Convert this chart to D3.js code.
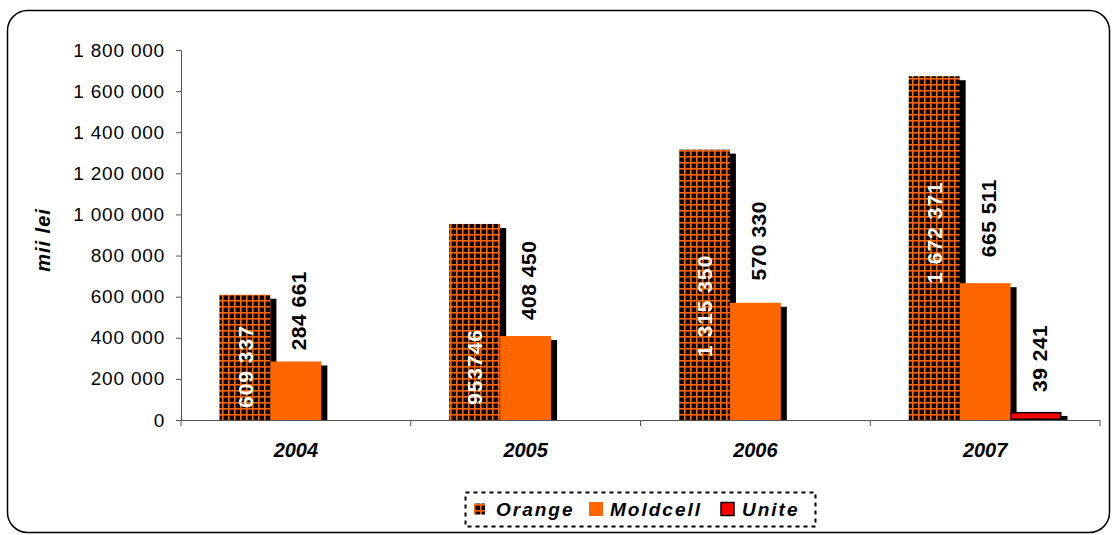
<!DOCTYPE html>
<html>
<head>
<meta charset="utf-8">
<script src="https://cdn.jsdelivr.net/npm/d3@7"></script>
<style>
  body { margin: 0; background: #fff; }
  text { font-family: "Liberation Sans", Arial, sans-serif; }
</style>
</head>
<body>
<div id="chart"></div>
<script>
// donnees
const years = ["2004", "2005", "2006", "2007"];
const orangeVals = [609337, 953746, 1315350, 1672371];
const moldcellVals = [284661, 408450, 570330, 665511];
const uniteVals = [null, null, null, 39241];
const orangeLabels = ["609 337", "953746", "1 315 350", "1 672 371"];
const moldcellLabels = ["284 661", "408 450", "570 330", "665 511"];
const uniteLabels = [null, null, null, "39 241"];
const seriesNames = ["Orange", "Moldcell", "Unite"];
const yTicks = [0, 200000, 400000, 600000, 800000, 1000000, 1200000, 1400000, 1600000, 1800000];

const width = 1112, height = 535;
const svg = d3.select("#chart").append("svg")
  .attr("width", width).attr("height", height);

// motif quadrille
const defs = svg.append("defs");
const pat = defs.append("pattern").attr("id", "grid")
  .attr("patternUnits", "userSpaceOnUse").attr("width", 6).attr("height", 6);
pat.append("rect").attr("width", 6).attr("height", 6).attr("fill", "#000");
pat.append("rect").attr("width", 6).attr("height", 1.6).attr("fill", "#ff6600");
pat.append("rect").attr("width", 1.6).attr("height", 6).attr("fill", "#ff6600");

// cadre
svg.append("rect")
  .attr("x", 7.5).attr("y", 10.5).attr("width", 1102).attr("height", 522)
  .attr("rx", 20).attr("fill", "#fff").attr("stroke", "#000").attr("stroke-width", 1.5);

const x0 = d3.scaleBand().domain(years).range([181, 1100]).paddingInner(0).paddingOuter(0);
const x1 = d3.scaleBand().domain(seriesNames).range([38.5, x0.bandwidth() - 38.5]);
const y = d3.scaleLinear().domain([0, 1800000]).range([420, 50]);

const fmt = v => d3.format(",")(v).replace(/,/g, " ");

// axe Y
const yAxis = svg.append("g").attr("transform", "translate(181,0)")
  .call(d3.axisLeft(y).tickValues(yTicks).tickFormat(fmt).tickSize(5).tickPadding(11));
yAxis.select(".domain").attr("stroke", "#555");
yAxis.selectAll(".tick line").attr("stroke", "#555");
yAxis.selectAll("text").attr("font-size", 19).attr("fill", "#000")
  .attr("letter-spacing", 0.8)
  .style("font-family", "'Liberation Sans', Arial, sans-serif");

svg.append("text")
  .attr("transform", "translate(50,240) rotate(-90)")
  .attr("text-anchor", "middle")
  .attr("font-size", 20).attr("font-weight", "bold").attr("font-style", "italic")
  .attr("letter-spacing", 1)
  .text("mii lei");

// barres
const series = [
  { name: "Orange", vals: orangeVals, fill: "url(#grid)", stroke: "none" },
  { name: "Moldcell", vals: moldcellVals, fill: "#ff6600", stroke: "none" },
  { name: "Unite", vals: uniteVals, fill: "#ff0000", stroke: "#000" }
];
const bw = x1.bandwidth();

series.forEach(s => {
  const g = svg.append("g");
  const d = years.map((yr, i) => ({ yr, v: s.vals[i] })).filter(e => e.v != null);
  const inset = s.stroke === "none" ? 0 : 0.75;
  g.selectAll(".shadow").data(d).join("rect")
    .attr("x", e => x0(e.yr) + x1(s.name) + 6)
    .attr("y", e => y(e.v) + 4)
    .attr("width", bw)
    .attr("height", e => Math.max(0, y(0) - y(e.v) - 4))
    .attr("fill", "#000");
  g.selectAll(".bar").data(d).join("rect")
    .attr("x", e => x0(e.yr) + x1(s.name) + inset)
    .attr("y", e => y(e.v) + inset)
    .attr("width", bw - 2 * inset)
    .attr("height", e => y(0) - y(e.v) - 2 * inset)
    .attr("fill", s.fill)
    .attr("stroke", s.stroke).attr("stroke-width", 1.5);
});

// axe X
svg.append("line").attr("x1", 181).attr("x2", 1100).attr("y1", 420.5).attr("y2", 420.5)
  .attr("stroke", "#555");
svg.selectAll(".xtick").data(years.concat(["end"])).join("line")
  .attr("x1", (d, i) => 181 + i * x0.bandwidth()).attr("x2", (d, i) => 181 + i * x0.bandwidth())
  .attr("y1", 420).attr("y2", 426).attr("stroke", "#555");
svg.selectAll(".year").data(years).join("text")
  .attr("x", d => x0(d) + x0.bandwidth() / 2).attr("y", 457)
  .attr("text-anchor", "middle")
  .attr("font-size", 20).attr("font-weight", "bold").attr("font-style", "italic")
  .text(d => d);

// etiquettes Orange (blanches, dans la barre)
years.forEach((yr, i) => {
  const cx = x0(yr) + x1("Orange") + bw / 2;
  const t = svg.append("text")
    .attr("font-size", 21).attr("font-weight", "bold").attr("fill", "#fff")
    .attr("letter-spacing", 1)
    .attr("text-anchor", "start").attr("dy", "0.36em")
    .text(orangeLabels[i]);
  const len = t.node().getComputedTextLength();
  const bottom = Math.min(y(orangeVals[i]) + 105 + len, y(0) - 12);
  t.attr("transform", `translate(${cx},${bottom}) rotate(-90)`);
});

// etiquettes Moldcell et Unite (noires, au-dessus)
function outsideLabels(name, vals, labels, gapFn) {
  years.forEach((yr, i) => {
    if (vals[i] == null) return;
    const cx = x0(yr) + x1(name) + bw / 2 + 3;
    const h = y(0) - y(vals[i]);
    svg.append("text")
      .attr("font-size", 21).attr("font-weight", "bold").attr("fill", "#000")
      .attr("letter-spacing", 0.5)
      .attr("text-anchor", "start").attr("dy", "0.36em")
      .attr("transform", `translate(${cx},${y(vals[i]) - gapFn(h)}) rotate(-90)`)
      .text(labels[i]);
  });
}
outsideLabels("Moldcell", moldcellVals, moldcellLabels, h => 0.19 * h);
outsideLabels("Unite", uniteVals, uniteLabels, h => 20);

// legende
const leg = svg.append("g");
leg.append("rect").attr("x", 465.5).attr("y", 492.5).attr("width", 350).attr("height", 34)
  .attr("fill", "#fff").attr("stroke", "#000").attr("stroke-width", 2)
  .attr("stroke-dasharray", "4,4");
const legItems = [
  { name: "Orange", sx: 474, tx: 496, fill: "url(#grid)", stroke: "none", size: 11 },
  { name: "Moldcell", sx: 589, tx: 610, fill: "#ff6600", stroke: "none", size: 14 },
  { name: "Unite", sx: 721, tx: 742, fill: "#ff0000", stroke: "#000", size: 13 }
];
legItems.forEach(it => {
  leg.append("rect").attr("x", it.sx).attr("y", 509 - it.size / 2)
    .attr("width", it.size).attr("height", it.size)
    .attr("fill", it.fill).attr("stroke", it.stroke).attr("stroke-width", 1.5);
  leg.append("text").attr("x", it.tx).attr("y", 515.5)
    .attr("font-size", 19).attr("font-weight", "bold").attr("font-style", "italic")
    .attr("letter-spacing", 2)
    .text(it.name);
});
</script>
</body>
</html>
